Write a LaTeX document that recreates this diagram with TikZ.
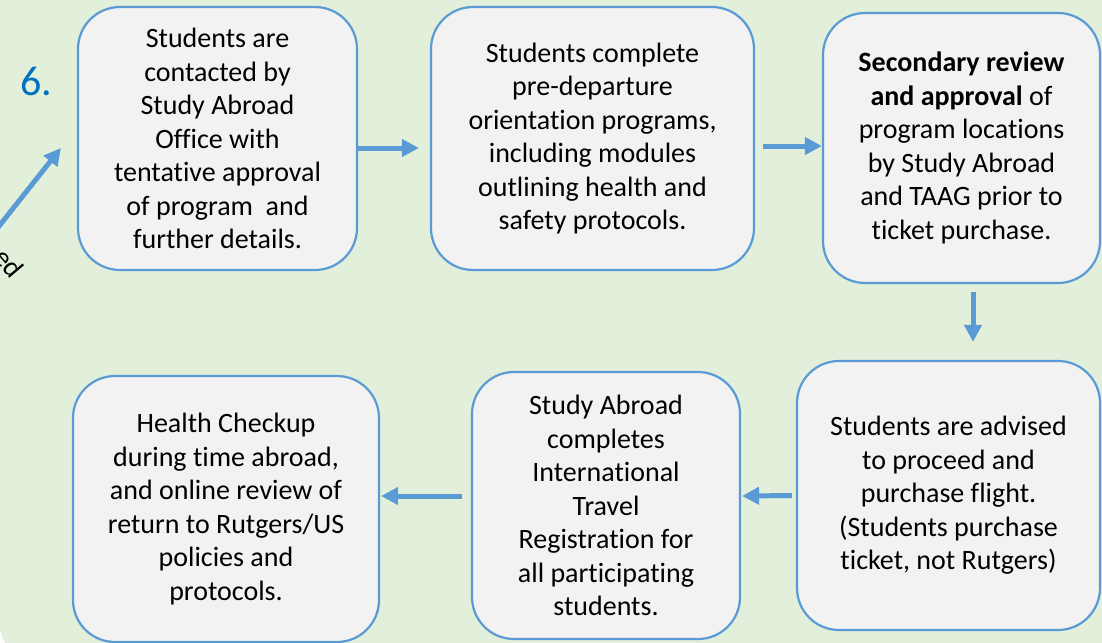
\documentclass[tikz,border=0pt]{standalone}
\usepackage{fontspec}
\setmainfont{Carlito}[Ligatures={NoCommon,NoContextual},RawFeature={-calt;-liga}]
\usetikzlibrary{arrows.meta}
\definecolor{bgg}{HTML}{E2EFDA}
\definecolor{boxf}{HTML}{F2F2F2}
\definecolor{blu}{HTML}{5B9BD5}
\definecolor{numc}{HTML}{0070C0}
\tikzset{
  stepbox/.style={draw=blu, line width=2.2pt, fill=boxf, rounded corners=42pt,
    align=center, inner sep=0pt, text=black,
    font=\fontsize{28}{33.5}\selectfont},
  arr/.style={draw=blu, line width=5pt, -{Triangle[length=17pt,width=17pt]}}
}
\begin{document}
\begin{tikzpicture}[x=1pt,y=-1pt]
\useasboundingbox (0,0) rectangle (1102,642);
\fill[white] (0,0) rectangle (1102,642);
\fill[bgg, rounded corners=60pt] (-2,-100) rectangle (1200,674.6);

\node[stepbox, minimum width=279pt, minimum height=263pt] (b1) at (217.5,138.5)
  {Students are\\contacted by\\Study Abroad\\Office with\\tentative approval\\of program~ and\\further details.};
\node[stepbox, minimum width=323pt, minimum height=263pt] (b2) at (592.5,138.5)
  {Students complete\\pre-departure\\orientation programs,\\including modules\\outlining health and\\safety protocols.};
\node[stepbox, minimum width=277pt, minimum height=270pt] (b3) at (961.5,148)
  {\textbf{Secondary review}\\\textbf{and approval} of\\program locations\\by Study Abroad\\and TAAG prior to\\ticket purchase.};
\node[stepbox, minimum width=303pt, minimum height=269pt] (b4) at (948.5,495.5)
  {Students are advised\\to proceed and\\purchase flight.\\(Students purchase\\ticket, not Rutgers)};
\node[stepbox, minimum width=268pt, minimum height=267pt] (b5) at (606,505.5)
  {Study Abroad\\completes\\International\\Travel\\Registration for\\all participating\\students.};
\node[stepbox, minimum width=306pt, minimum height=266pt] (b6) at (226,509)
  {Health Checkup\\during time abroad,\\and online review of\\return to Rutgers/US\\policies and\\protocols.};

\node[font=\fontsize{42}{50}\selectfont, text=numc, anchor=base west, inner sep=0pt] (n6) at (20,95) {6.};
\node[rotate=-50, font=\fontsize{28}{33.5}\selectfont, inner sep=0pt] (ed) at (9,263) {ed};

\coordinate (d0) at (-6,232.5);
\draw[arr] (d0) -- ([xshift=-16pt, yshift=-9.5pt]b1.west);
\draw[arr, shorten >=11pt] ([yshift=-9.5pt]b1.east) -- ([yshift=-9.5pt]b2.west);
\draw[arr, shorten <=8pt] ([yshift=-7.5pt]b2.east) -- ([yshift=2pt]b3.west);
\draw[arr, shorten <=8pt, shorten >=18pt] ([xshift=11.5pt]b3.south) -- ([xshift=24.5pt]b4.north);
\draw[arr, shorten <=4pt, shorten >=1pt] (b4.west) -- ([yshift=9.5pt]b5.east);
\draw[arr, shorten <=9pt, shorten >=1pt] ([yshift=9.5pt]b5.west) -- ([yshift=13pt]b6.east);
\end{tikzpicture}
\end{document}
